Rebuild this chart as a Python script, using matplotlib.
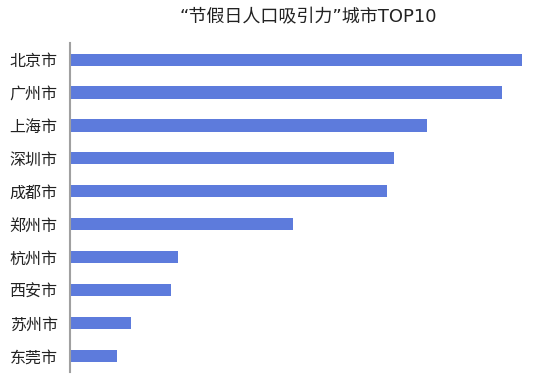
import matplotlib
matplotlib.use("Agg")
import matplotlib.pyplot as plt

plt.rcParams["font.family"] = ["Noto Sans CJK SC", "DejaVu Sans"]

cities = ["北京市", "广州市", "上海市", "深圳市", "成都市", "郑州市", "杭州市", "西安市", "苏州市", "东莞市"]
values = [452, 432, 357, 324, 317, 223, 108, 101, 61, 47]
title = "“节假日人口吸引力”城市TOP10"

fig = plt.figure(figsize=(5.54, 3.79), dpi=100)
ax = fig.add_axes([0.1264, 0.018, 0.822, 0.868])

pos = list(range(len(cities)))
ax.barh(pos, values, height=0.37, color="#5d7bdc")
ax.set_yticks(pos)
ax.set_yticklabels(cities, fontsize=11.5, color="#222222")
ax.set_ylim(len(cities) - 0.5, -0.5)
ax.set_xlim(0, 455)
ax.set_xticks([])
ax.tick_params(axis="y", length=0, pad=9)
for s in ["top", "right", "bottom"]:
    ax.spines[s].set_visible(False)
ax.spines["left"].set_color("#a0a0a0")
ax.spines["left"].set_linewidth(1.5)

# latin quotes narrow like the reference, CJK falls back
fig.text(0.557, 0.953, title, ha="center", va="center", fontsize=13, color="#222222",
         family=["DejaVu Sans", "Noto Sans CJK SC"])

fig.savefig("out.png", dpi=100)
plt.close(fig)
